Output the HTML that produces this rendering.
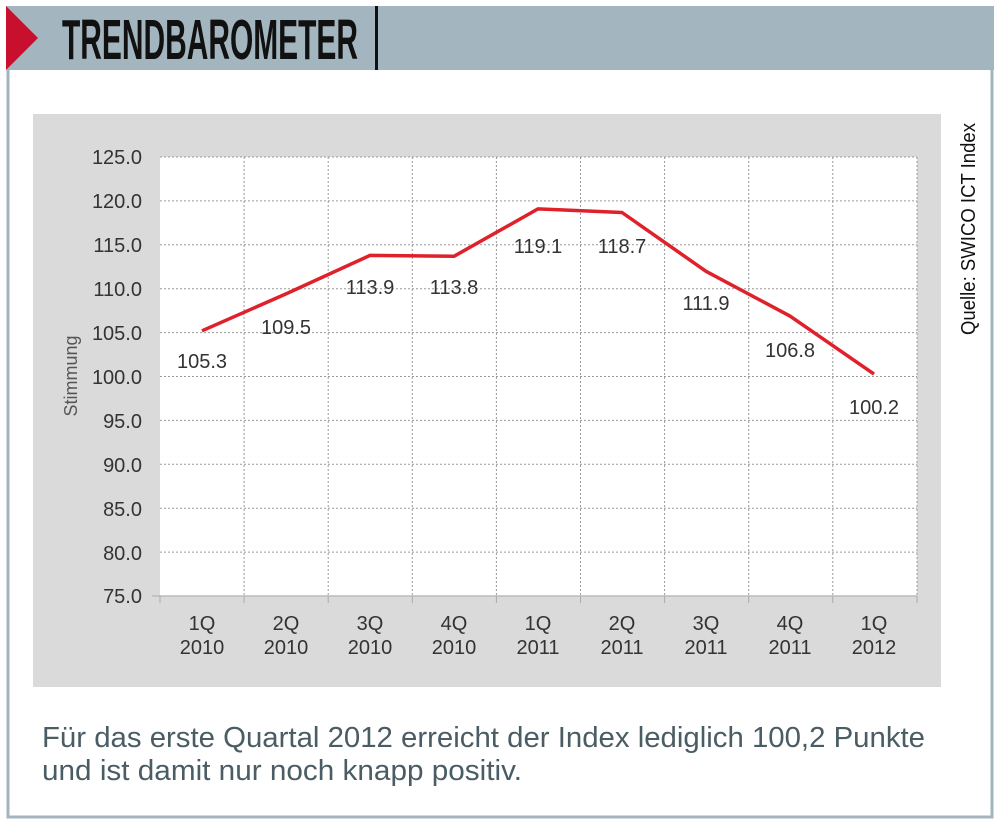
<!DOCTYPE html>
<html><head><meta charset="utf-8"><style>html,body{margin:0;padding:0;background:#fff}svg{display:block}</style></head>
<body>
<svg width="1000" height="824" viewBox="0 0 1000 824" xmlns="http://www.w3.org/2000/svg" font-family="Liberation Sans, Arial, sans-serif">
<rect x="0" y="0" width="1000" height="824" fill="#fff"/>
<rect x="8" y="8" width="984" height="809" fill="none" stroke="#a3b5bf" stroke-width="3"/>
<rect x="6" y="6" width="988" height="64" fill="#a3b5bf"/>
<polygon points="6,6 38,38 6,70" fill="#c8102e"/>
<rect x="375" y="6" width="3" height="64" fill="#111"/>
<text x="62" y="59" font-size="57" font-weight="bold" fill="#111" textLength="296" lengthAdjust="spacingAndGlyphs">TRENDBAROMETER</text>
<rect x="33" y="114" width="908" height="573" fill="#dadada"/>
<rect x="160" y="157" width="757" height="439" fill="#fff"/>
<g stroke="#999" stroke-width="1" stroke-dasharray="2,2" fill="none">
<line x1="160" y1="157" x2="917" y2="157"/><line x1="160" y1="200.9" x2="917" y2="200.9"/><line x1="160" y1="244.8" x2="917" y2="244.8"/><line x1="160" y1="288.7" x2="917" y2="288.7"/><line x1="160" y1="332.6" x2="917" y2="332.6"/><line x1="160" y1="376.5" x2="917" y2="376.5"/><line x1="160" y1="420.4" x2="917" y2="420.4"/><line x1="160" y1="464.3" x2="917" y2="464.3"/><line x1="160" y1="508.2" x2="917" y2="508.2"/><line x1="160" y1="552.1" x2="917" y2="552.1"/>
<line x1="244.1" y1="157" x2="244.1" y2="596"/><line x1="328.2" y1="157" x2="328.2" y2="596"/><line x1="412.3" y1="157" x2="412.3" y2="596"/><line x1="496.4" y1="157" x2="496.4" y2="596"/><line x1="580.5" y1="157" x2="580.5" y2="596"/><line x1="664.6" y1="157" x2="664.6" y2="596"/><line x1="748.7" y1="157" x2="748.7" y2="596"/><line x1="832.8" y1="157" x2="832.8" y2="596"/><line x1="917" y1="157" x2="917" y2="596"/>
</g>
<line x1="152" y1="596" x2="917" y2="596" stroke="#bbb" stroke-width="1.5"/>
<g stroke="#aaa" stroke-width="1"><line x1="160" y1="596" x2="160" y2="603"/><line x1="244.1" y1="596" x2="244.1" y2="603"/><line x1="328.2" y1="596" x2="328.2" y2="603"/><line x1="412.3" y1="596" x2="412.3" y2="603"/><line x1="496.4" y1="596" x2="496.4" y2="603"/><line x1="580.5" y1="596" x2="580.5" y2="603"/><line x1="664.6" y1="596" x2="664.6" y2="603"/><line x1="748.7" y1="596" x2="748.7" y2="603"/><line x1="832.8" y1="596" x2="832.8" y2="603"/><line x1="917" y1="596" x2="917" y2="603"/></g>
<g font-size="20" fill="#333" text-anchor="end">
<text x="142" y="164">125.0</text><text x="142" y="208">120.0</text><text x="142" y="252">115.0</text><text x="142" y="296">110.0</text><text x="142" y="340">105.0</text><text x="142" y="384">100.0</text><text x="142" y="428">95.0</text><text x="142" y="472">90.0</text><text x="142" y="516">85.0</text><text x="142" y="560">80.0</text><text x="142" y="603">75.0</text>
</g>
<text transform="translate(77,376) rotate(-90)" font-size="18" fill="#555" text-anchor="middle">Stimmung</text>
<g font-size="20" fill="#333" text-anchor="middle">
<text x="202" y="630">1Q</text><text x="202" y="654">2010</text>
<text x="286" y="630">2Q</text><text x="286" y="654">2010</text>
<text x="370" y="630">3Q</text><text x="370" y="654">2010</text>
<text x="454" y="630">4Q</text><text x="454" y="654">2010</text>
<text x="538" y="630">1Q</text><text x="538" y="654">2011</text>
<text x="622" y="630">2Q</text><text x="622" y="654">2011</text>
<text x="706" y="630">3Q</text><text x="706" y="654">2011</text>
<text x="790" y="630">4Q</text><text x="790" y="654">2011</text>
<text x="874" y="630">1Q</text><text x="874" y="654">2012</text>
</g>
<polyline fill="none" stroke="#e0202a" stroke-width="3.5" stroke-linejoin="round" points="202,330.8 286,293.9 370,255.4 454,256.3 538,208.9 622,212.5 706,271.3 790,316.1 874,374.1"/>
<g font-size="20" fill="#333" text-anchor="middle">
<text x="202" y="368">105.3</text><text x="286" y="334">109.5</text><text x="370" y="294">113.9</text><text x="454" y="294">113.8</text><text x="538" y="253">119.1</text><text x="622" y="253">118.7</text><text x="706" y="310">111.9</text><text x="790" y="357">106.8</text><text x="874" y="414">100.2</text>
</g>
<text transform="translate(975,335) rotate(-90)" font-size="20" fill="#111" textLength="212" lengthAdjust="spacingAndGlyphs">Quelle: SWICO ICT Index</text>
<text x="42" y="747" font-size="29" fill="#4a5c64" textLength="883" lengthAdjust="spacingAndGlyphs">Für das erste Quartal 2012 erreicht der Index lediglich 100,2 Punkte</text>
<text x="42" y="780" font-size="29" fill="#4a5c64" textLength="480" lengthAdjust="spacingAndGlyphs">und ist damit nur noch knapp positiv.</text>
</svg>
</body></html>
